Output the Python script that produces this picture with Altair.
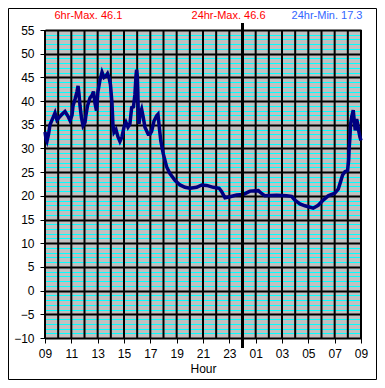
import altair as alt
import pandas as pd

# Hours since 09:00 and temperature readings
hours = [0.0, 0.08, 0.15, 0.27, 0.38, 0.61, 0.76, 0.91, 1.06, 1.29, 1.52, 1.75, 1.90,
         2.05, 2.13, 2.28, 2.43, 2.51, 2.58, 2.66, 2.77, 2.89, 3.04, 3.11, 3.23, 3.42,
         3.57, 3.68, 3.80, 3.91, 4.02, 4.18, 4.33, 4.48, 4.63, 4.75, 4.86, 4.97, 5.09,
         5.16, 5.24, 5.39, 5.54, 5.69, 5.85, 6.00, 6.15, 6.30, 6.45, 6.58, 6.72, 6.83,
         6.91, 6.96, 7.01, 7.05, 7.08, 7.14, 7.21, 7.34, 7.46, 7.59, 7.84, 7.97, 8.10,
         8.28, 8.48, 8.58, 8.68, 8.79, 8.98, 9.24, 9.49, 9.87, 10.25, 10.63, 11.01,
         11.52, 11.90, 12.28, 12.78, 13.23, 13.42, 13.67, 14.05, 14.56, 15.06, 15.57,
         16.20, 16.45, 16.70, 17.59, 18.35, 18.73, 18.98, 19.36, 19.74, 20.37, 20.75,
         21.13, 21.51, 22.02, 22.27, 22.45, 22.60, 22.78, 22.98, 23.06, 23.10, 23.16,
         23.21, 23.29, 23.41, 23.49, 23.56, 23.67, 23.75, 23.82, 23.92, 24.0]
temps = [33.5, 32.0, 31.5, 33.0, 35.0, 36.5, 37.5, 36.0, 36.5, 37.2, 37.8, 36.8, 35.9,
         37.0, 39.0, 40.4, 42.0, 43.2, 41.5, 39.0, 36.5, 34.8, 35.5, 37.0, 39.0, 40.7,
         41.2, 42.0, 39.5, 38.0, 42.0, 44.5, 46.1, 45.0, 45.3, 45.8, 45.0, 43.5, 39.5,
         35.0, 33.4, 34.0, 32.5, 31.5, 32.5, 34.5, 35.5, 34.5, 35.2, 38.6, 38.8, 41.4,
         45.3, 46.6, 45.3, 42.0, 38.0, 35.2, 37.2, 38.3, 36.6, 34.5, 33.0, 33.0, 33.6,
         35.8, 36.9, 37.2, 34.5, 31.7, 28.9, 26.1, 24.7, 23.3, 22.3, 21.8, 21.6,
         21.8, 22.3, 22.2, 21.8, 21.6, 20.9, 19.6, 19.8, 20.2, 20.3, 21.0,
         21.1, 20.5, 20.0, 20.1, 20.0, 19.9, 19.1, 18.3, 17.9, 17.4, 18.0,
         19.1, 20.0, 20.6, 21.4, 23.0, 24.4, 25.1, 25.3, 27.5, 30.0, 32.4,
         35.2, 36.6, 38.1, 35.8, 33.8, 36.2, 35.2, 33.8, 32.4, 31.7]

header_texts = ["6hr-Max. 46.1", "24hr-Max. 46.6", "24hr-Min. 17.3"]
header_colors = ["#FF0000", "#FF0000", "#3366FF"]

y_ticks = list(range(-10, 56))
x_ticks = list(range(0, 25))
x_label_ticks = list(range(0, 25, 2))
midnight = 15

W, H = 316, 308
FONT = "Liberation Sans"

df = pd.DataFrame({"hour": hours, "temp": temps})
xscale = alt.Scale(domain=[0, 24], nice=False, zero=False)
yscale = alt.Scale(domain=[-10, 55], nice=False, zero=False)

x_axis = alt.Axis(
    values=x_label_ticks,
    labelExpr="format((datum.value + 9) % 24, '02d')",
    grid=False,
    tickColor="black", tickSize=5, tickWidth=1,
    domainColor="black", domainWidth=1,
    labelFont=FONT, labelFontSize=12, labelColor="black", labelPadding=5,
    labelFlush=False, labelOverlap=False,
    title="Hour", titleFont=FONT, titleFontSize=12, titleFontWeight="normal",
    titleColor="black", titlePadding=4,
)
y_axis = alt.Axis(
    values=y_ticks,
    labelExpr="datum.value % 5 == 0 ? datum.label : ''",
    grid=True,
    gridColor={"condition": {"test": "datum.value % 5 == 0", "value": "black"}, "value": "#00FFFF"},
    gridWidth={"condition": {"test": "datum.value % 5 == 0", "value": 2}, "value": 1},
    tickColor="black", tickSize=5, tickWidth=1,
    tickOpacity={"condition": {"test": "datum.value % 5 == 0", "value": 1}, "value": 0},
    domainColor="black", domainWidth=1,
    labelFont=FONT, labelFontSize=12, labelColor="black", labelPadding=6,
    labelFlush=False, labelOverlap=False,
    title=None,
)

vgrid = alt.Chart(pd.DataFrame({"h": x_ticks})).mark_rule(
    color="black", strokeWidth=2
).encode(x=alt.X("h:Q", scale=xscale, axis=x_axis), y=alt.value(0), y2=alt.value(H))

line = alt.Chart(df).mark_line(color="#000080", strokeWidth=3.5).encode(
    x=alt.X("hour:Q", scale=xscale, axis=x_axis),
    y=alt.Y("temp:Q", scale=yscale, axis=y_axis),
)

mid = alt.Chart(pd.DataFrame({"h": [midnight]})).mark_rule(
    color="black", strokeWidth=3
).encode(x=alt.X("h:Q", scale=xscale, axis=x_axis), y=alt.value(-7), y2=alt.value(H + 10))

t1 = alt.Chart(pd.DataFrame({"t": [header_texts[0]]})).mark_text(
    align="left", baseline="alphabetic", font=FONT, fontSize=11, color=header_colors[0]
).encode(text="t:N", x=alt.value(9.5), y=alt.value(-11))
t2 = alt.Chart(pd.DataFrame({"t": [header_texts[1]]})).mark_text(
    align="center", baseline="alphabetic", font=FONT, fontSize=11, color=header_colors[1]
).encode(text="t:N", x=alt.value(183.5), y=alt.value(-11))
t3 = alt.Chart(pd.DataFrame({"t": [header_texts[2]]})).mark_text(
    align="right", baseline="alphabetic", font=FONT, fontSize=11, color=header_colors[2]
).encode(text="t:N", x=alt.value(317.5), y=alt.value(-11))

frame = alt.Chart(pd.DataFrame({"f": [0]})).mark_rect(
    filled=False, stroke="black", strokeWidth=1
).encode(x=alt.value(-36.5), x2=alt.value(331.5), y=alt.value(-21.5), y2=alt.value(349.5))

chart = alt.layer(vgrid, line, mid, t1, t2, t3, frame).properties(
    width=W, height=H,
    autosize=alt.AutoSizeParams(type="none"),
    padding={"left": 37, "top": 22, "right": 16, "bottom": 42},
    background="white",
).configure_view(fill="#C0C0C0", stroke="black", strokeWidth=1)

chart.save("out.html", embed_options={"renderer": "svg", "actions": False})
